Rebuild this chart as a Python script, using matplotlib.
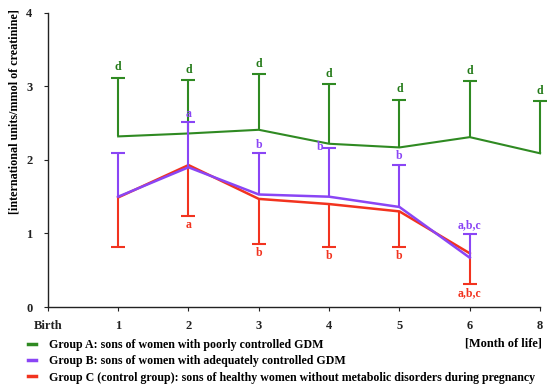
import numpy as np
import matplotlib.pyplot as plt

# x categories (evenly spaced, "Birth" at the y axis)
x_labels = ["Birth", "1", "2", "3", "4", "5", "6", "8"]

# Group A (poorly controlled GDM): months 1..8, error bars upward
a_pos = [1, 2, 3, 4, 5, 6, 7]
a_mean = [2.32, 2.36, 2.41, 2.22, 2.17, 2.31, 2.09]
a_sd = [0.80, 0.73, 0.76, 0.81, 0.65, 0.76, 0.71]
a_sig = ["d", "d", "d", "d", "d", "d", "d"]

# Group B (adequately controlled GDM): months 1..6, error bars upward
b_pos = [1, 2, 3, 4, 5, 6]
b_mean = [1.50, 1.90, 1.53, 1.50, 1.36, 0.67]
b_sd = [0.59, 0.61, 0.56, 0.66, 0.57, 0.32]
b_sig = ["", "a", "b", "b", "b", "a,b,c"]

# Group C (control): months 1..6, error bars downward
c_pos = [1, 2, 3, 4, 5, 6]
c_mean = [1.49, 1.93, 1.47, 1.40, 1.30, 0.73]
c_sd = [0.67, 0.69, 0.61, 0.59, 0.49, 0.42]
c_sig = ["", "a", "b", "b", "b", "a,b,c"]

labels = ["Group A: sons of women with poorly controlled GDM",
          "Group B: sons of women with adequately controlled GDM",
          "Group C (control group): sons of healthy women without metabolic disorders during pregnancy"]

green = "#2f8a22"
purple = "#8a45f5"
red = "#f2331f"

plt.rcParams['font.family'] = ['Liberation Serif', 'DejaVu Serif']
plt.rcParams['font.weight'] = 'bold'

fig = plt.figure(figsize=(5.5, 3.84), dpi=100)
ax = fig.add_axes([0.087, 0.2005, 0.895, 0.766])


def one_sided(pos, mean, sd, color, up, lw, z):
    zero = np.zeros(len(sd))
    err = [zero, sd] if up else [sd, zero]
    eb = ax.errorbar(pos, mean, yerr=err, color=color, lw=lw, elinewidth=1.5,
                     capsize=5, capthick=1.5, zorder=z)
    # hide the cap sitting on the mean (zero-length side)
    lower_cap, upper_cap = eb[1]
    (lower_cap if up else upper_cap).set_visible(False)
    for art in list(eb[1]) + list(eb[2]) + [eb[0]]:
        art.set_clip_on(False)
    return eb


ebA = one_sided(a_pos, a_mean, a_sd, green, True, 1.5, 2)
ebC = one_sided(c_pos, c_mean, c_sd, red, False, 1.8, 3)
ebB = one_sided(b_pos, b_mean, b_sd, purple, True, 1.8, 4)

# significance letters
fs = 8.5
for x, m, s, t in zip(a_pos, a_mean, a_sd, a_sig):
    ax.annotate(t, (x, m + s), xytext=(0, 3), textcoords="offset points",
                ha="center", va="bottom", color="#237a18", fontsize=fs)
for i, (x, m, s, t) in enumerate(zip(b_pos, b_mean, b_sd, b_sig)):
    if i == 3:
        ax.annotate(t, (x, m + s), xytext=(-4, 1), textcoords="offset points",
                    ha="right", va="center", color=purple, fontsize=fs)
    else:
        ax.annotate(t, (x, m + s), xytext=(0, 2), textcoords="offset points",
                    ha="center", va="bottom", color=purple, fontsize=fs)
for x, m, s, t in zip(c_pos, c_mean, c_sd, c_sig):
    ax.annotate(t, (x, m - s), xytext=(0, -2), textcoords="offset points",
                ha="center", va="top", color=red, fontsize=fs)

ax.set_xlim(0, 7)
ax.set_ylim(0, 4)
ax.set_xticks(range(len(x_labels)))
ax.set_xticklabels(x_labels)
ax.set_yticks([0, 1, 2, 3, 4])
ax.tick_params(axis="both", labelsize=9, length=3, width=0.8, colors="#222222")
ax.tick_params(axis="x", pad=6)
ax.tick_params(axis="y", pad=8)
for side in ["top", "right"]:
    ax.spines[side].set_visible(False)
for side in ["left", "bottom"]:
    ax.spines[side].set_linewidth(1.0)
    ax.spines[side].set_color("#222222")

fig.text(0.027, 0.71, "[international units/mmol of creatinine]", rotation=90,
         ha="center", va="center", fontsize=8.7)
fig.text(0.985, 1 - 343 / 384, "[Month of life]", ha="right", va="center", fontsize=8.8)

fig.legend([ebA.lines[0], ebB.lines[0], ebC.lines[0]], labels,
           loc="upper left", bbox_to_anchor=(0.05, 1 - 339 / 384), frameon=False,
           fontsize=8.55, handlelength=0.7, handletextpad=1.1, labelspacing=0.36,
           borderaxespad=0, borderpad=0)
for h in fig.legends[0].legend_handles:
    h.set_linewidth(2.5)

fig.savefig("out.png", dpi=100)
